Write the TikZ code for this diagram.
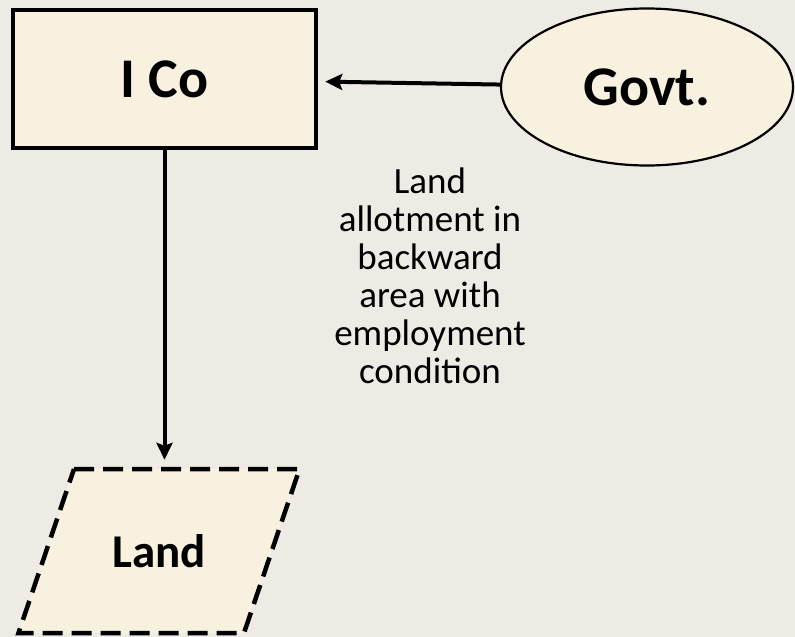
\documentclass[tikz,border=0pt]{standalone}
\usepackage{fontspec}
\setmainfont{Carlito}
\usepackage{tikz}
\usetikzlibrary{arrows.meta, positioning, shapes.geometric}

\definecolor{paper}{RGB}{238,235,228}
\definecolor{cream}{RGB}{249,241,224}

\begin{document}
\begin{tikzpicture}[
		x=1pt, y=-1pt,
		company/.style={
			rectangle,
			draw=black,
			fill=cream,
			line width=4.5pt,
			minimum width=303pt,
			minimum height=138pt,
			inner sep=0pt,
			font=\fontsize{56}{60}\selectfont\bfseries
		},
		agency/.style={
			ellipse,
			draw=black,
			fill=cream,
			line width=2.2pt,
			minimum width=292pt,
			minimum height=157pt,
			inner sep=0pt,
			font=\fontsize{56}{60}\selectfont\bfseries
		},
		asset/.style={
			rectangle,
			minimum width=225pt,
			minimum height=164pt,
			inner sep=0pt,
			font=\fontsize{47}{52}\selectfont\bfseries
		},
		slanted/.style={
			draw=black,
			fill=cream,
			line width=4.5pt,
			dash pattern=on 20pt off 9pt
		},
		note/.style={
			align=center,
			inner sep=0pt,
			font=\fontsize{37}{38}\selectfont
		},
		arrow/.style={
			line width=4pt,
			-{Stealth[length=17pt, width=16pt, inset=3pt]},
		}
	]

	\fill[paper] (0,0) rectangle (795,637);
	\useasboundingbox (0,0) rectangle (795,637);

	\node[company] (ico) at (164.5,79) {I Co};
	\node[agency] (govt) at (647,87) {Govt.};

	% parallelogram drawn by hand round the land node
	\coordinate (landc) at (159,551);
	\draw[slanted, shift={(landc)}] (-85,-82) -- (140.5,-82) -- (85,82) -- (-140.5,82) -- cycle;
	\node[asset] (land) at (landc) {Land};

	\node[note] (deal) at (430,276) {Land\\allotment in\\backward\\area with\\employment\\condition};

	\draw[arrow, shorten >=7pt] (govt) -- (ico);
	\draw[arrow, shorten >=9pt] (ico.south) -- (ico.south |- land.north);

\end{tikzpicture}
\end{document}
